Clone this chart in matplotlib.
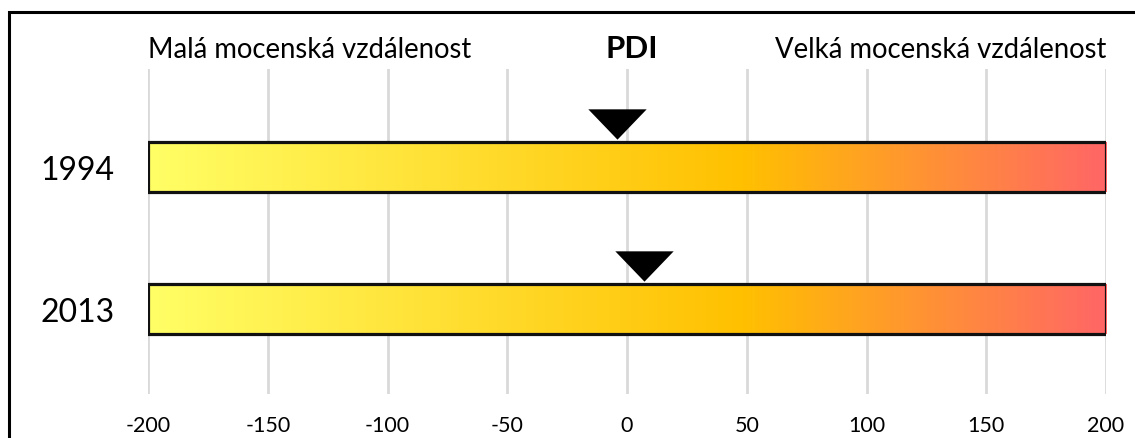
import numpy as np
import matplotlib
matplotlib.use("Agg")
import matplotlib.pyplot as plt
from matplotlib.colors import LinearSegmentedColormap
from matplotlib.patches import Rectangle
from matplotlib.path import Path

# data
years = ["1994", "2013"]
pdi = [-4, 7]
xticks = [-200, -150, -100, -50, 0, 50, 100, 150, 200]
left_label = "Malá mocenská vzdálenost"
right_label = "Velká mocenská vzdálenost"
title = "PDI"

plt.rcParams['font.family'] = ['Lato', 'DejaVu Sans']

W, H = 1135, 439
fig = plt.figure(figsize=(W / 100, H / 100), dpi=100)
ax = fig.add_axes([148 / W, 1 - 395 / H, (1106 - 148) / W, (395 - 70) / H])

cmap = LinearSegmentedColormap.from_list(
    "pdi", [(0.0, "#FFFF66"), (0.62, "#FFC000"), (1.0, "#FF6666")])
grad = np.linspace(0, 1, 512).reshape(1, -1)

bar_h = 0.35
for i, (yr, v) in enumerate(zip(years, pdi)):
    ax.imshow(grad, cmap=cmap, aspect="auto", zorder=2,
              extent=[-200, 200, i + bar_h / 2, i - bar_h / 2])
    ax.add_patch(Rectangle((-200, i - bar_h / 2), 400, bar_h, fill=False,
                           edgecolor="#111111", lw=2.3, zorder=3))

# flat down-pointing triangle markers
tri = Path([(-1, 0.52), (1, 0.52), (0, -0.52), (-1, 0.52)],
           [Path.MOVETO, Path.LINETO, Path.LINETO, Path.CLOSEPOLY])
for i, v in enumerate(pdi):
    ax.plot(v, i - bar_h / 2 - 0.13, marker=tri, markersize=42,
            color="black", markeredgewidth=0, zorder=4)

ax.set_xlim(-200, 200)
ax.set_ylim(1.6, -0.69)
ax.set_xticks(xticks)
ax.set_xticklabels([str(t) for t in xticks], fontsize=15.5)
ax.set_yticks(range(len(years)))
ax.set_yticklabels(years, fontsize=23)
ax.tick_params(axis="x", length=0, pad=15)
ax.tick_params(axis="y", length=0, pad=24)
ax.grid(axis="x", color="#D9D9D9", lw=2, zorder=0)
ax.set_axisbelow(True)
for s in ax.spines.values():
    s.set_visible(False)

ax.text(-200, 1.037, left_label, transform=ax.get_xaxis_transform(),
        ha="left", va="baseline", fontsize=19.8)
ax.text(200, 1.037, right_label, transform=ax.get_xaxis_transform(),
        ha="right", va="baseline", fontsize=19.8)
ax.text(2, 1.037, title, transform=ax.get_xaxis_transform(),
        ha="center", va="baseline", fontsize=22.5, fontweight="bold")

# outer frame (cut off on the right and bottom)
fig.patches.append(Rectangle((9 / W, -0.2), 2, 1.2 - 13 / H, fill=False,
                             edgecolor="black", lw=2.2,
                             transform=fig.transFigure))

fig.savefig("out.png", dpi=100)
